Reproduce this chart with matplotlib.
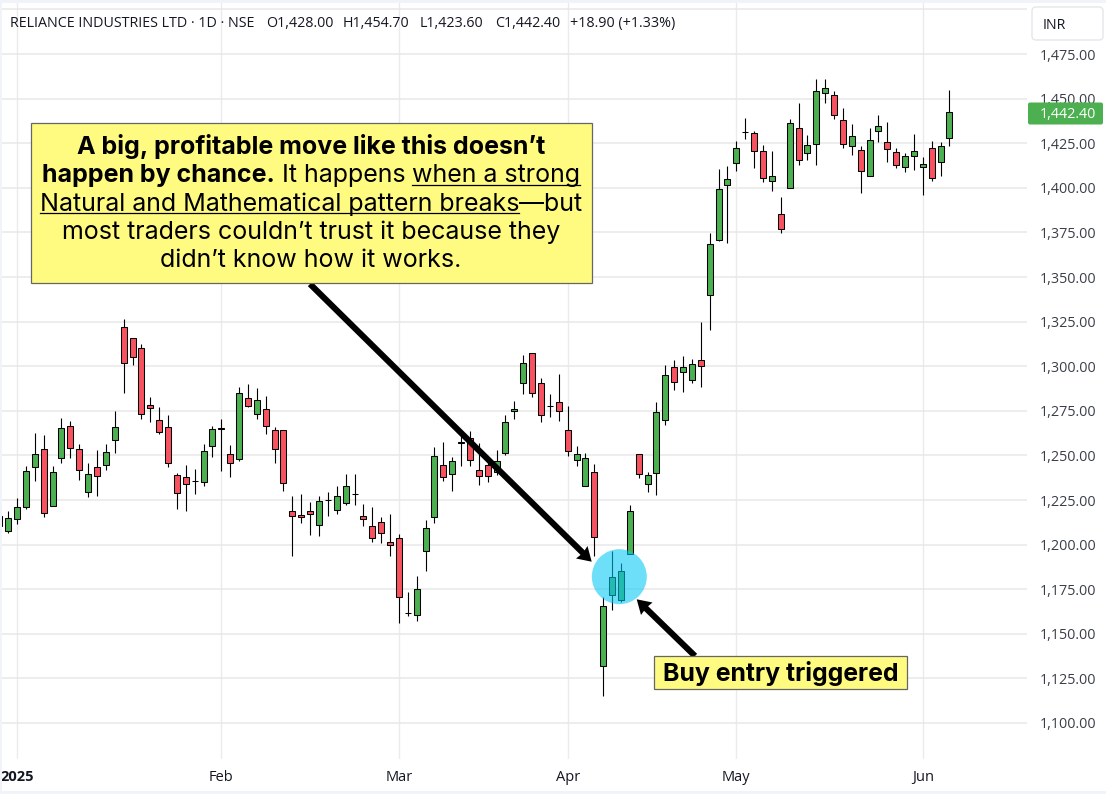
import numpy as np
import matplotlib
matplotlib.use("Agg")
import matplotlib.pyplot as plt
from matplotlib.patches import Circle, Polygon, Rectangle, FancyBboxPatch

# Daily candles, first one is only half visible at the left edge
opens = [1216.3, 1207.7, 1214.5, 1221.2, 1243.6, 1253.7, 1221.7, 1248.6, 1266.6, 1253.7, 1229.6,
         1243.6, 1244.7, 1258.7, 1322.1, 1315.9, 1310.3, 1278.4, 1269.9, 1266.0, 1239.1, 1238.0,
         1235.8, 1235.2, 1255.4, 1265.1, 1250.9, 1248.1, 1282.3, 1273.3, 1276.1, 1264.3, 1264.3,
         1218.9, 1216.7, 1218.9, 1211.1, 1225.1, 1219.5, 1223.4, 1228.5, 1216.1, 1210.5, 1212.8,
         1201.6, 1203.8, 1161.8, 1160.6, 1196.5, 1215.6, 1244.7, 1239.7, 1257.0, 1259.7, 1241.9,
         1244.7, 1240.8, 1251.4, 1275.0, 1290.7, 1307.5, 1290.7, 1277.8, 1280.0, 1264.3, 1247.5,
         1232.9, 1240.8, 1132.1, 1171.9, 1169.0, 1194.8, 1250.9, 1234.1, 1240.2, 1269.9, 1299.7,
         1296.9, 1292.4, 1303.6, 1340.0, 1370.8, 1401.6, 1414.0, 1431.4, 1430.8, 1420.7, 1403.9,
         1385.4, 1400.0, 1433.6, 1419.6, 1424.6, 1453.2, 1452.1, 1438.1, 1423.5, 1421.3, 1406.7,
         1431.9, 1425.8, 1420.2, 1411.7, 1417.9, 1411.7, 1422.4, 1414.5, 1428.0]
highs = [1218.0, 1219.1, 1226.2, 1244.2, 1262.3, 1261.7, 1244.2, 1271.1, 1269.4, 1256.5, 1245.5,
         1253.1, 1256.5, 1275.0, 1326.2, 1315.9, 1312.7, 1282.8, 1277.2, 1272.8, 1240.2, 1244.7,
         1242.5, 1256.5, 1266.6, 1270.5, 1255.9, 1288.4, 1290.1, 1287.9, 1283.4, 1266.0, 1264.3,
         1227.0, 1228.1, 1224.0, 1227.3, 1229.6, 1232.6, 1239.3, 1239.7, 1223.0, 1220.8, 1215.2,
         1217.4, 1206.0, 1173.6, 1182.5, 1213.9, 1254.8, 1257.6, 1249.2, 1261.7, 1263.8, 1257.0,
         1248.6, 1253.1, 1272.9, 1280.6, 1306.0, 1307.5, 1293.5, 1284.5, 1295.7, 1277.8, 1255.4,
         1251.4, 1245.3, 1170.7, 1196.5, 1189.8, 1222.3, 1250.9, 1240.8, 1280.0, 1300.8, 1303.6,
         1305.8, 1304.1, 1324.9, 1374.4, 1410.6, 1412.3, 1426.3, 1439.2, 1431.9, 1424.1, 1420.7,
         1394.9, 1438.6, 1447.6, 1429.7, 1461.1, 1461.1, 1454.4, 1444.8, 1435.9, 1423.5, 1433.6,
         1440.9, 1437.0, 1422.4, 1419.6, 1430.2, 1417.3, 1426.3, 1425.8, 1454.7]
lows = [1208.0, 1206.6, 1211.5, 1220.1, 1235.6, 1215.2, 1221.7, 1245.7, 1248.5, 1236.1, 1226.6,
        1227.2, 1241.7, 1251.3, 1284.9, 1300.6, 1270.3, 1268.6, 1261.9, 1243.4, 1219.9, 1218.7,
        1228.3, 1232.8, 1249.0, 1241.2, 1237.8, 1246.8, 1277.0, 1270.3, 1261.9, 1245.7, 1230.0,
        1193.5, 1212.0, 1205.3, 1204.7, 1216.0, 1217.4, 1222.1, 1222.1, 1210.3, 1201.4, 1200.8,
        1193.5, 1156.0, 1159.9, 1157.1, 1185.1, 1212.0, 1235.6, 1230.0, 1244.0, 1244.0, 1233.3,
        1235.0, 1238.9, 1250.1, 1270.3, 1284.3, 1282.8, 1268.6, 1271.4, 1269.2, 1249.6, 1244.0,
        1232.9, 1193.5, 1115.0, 1163.3, 1167.9, 1194.8, 1237.3, 1229.4, 1227.7, 1266.8, 1286.6,
        1285.5, 1290.5, 1288.3, 1320.2, 1370.1, 1369.0, 1409.3, 1427.2, 1411.0, 1403.1, 1398.1,
        1374.6, 1400.0, 1412.7, 1415.5, 1412.7, 1447.4, 1438.5, 1422.2, 1418.3, 1397.0, 1406.7,
        1425.6, 1414.4, 1411.0, 1408.8, 1409.9, 1395.9, 1403.7, 1406.5, 1423.6]
closes = [1210.2, 1215.0, 1221.2, 1241.4, 1250.9, 1217.8, 1240.8, 1265.5, 1254.3, 1241.9, 1239.7,
          1238.6, 1252.0, 1266.0, 1301.9, 1305.3, 1273.3, 1276.7, 1263.2, 1245.8, 1229.0, 1234.1,
          1235.6, 1252.6, 1264.9, 1264.9, 1245.8, 1285.1, 1277.8, 1281.2, 1266.6, 1253.7, 1234.6,
          1216.1, 1215.6, 1217.2, 1224.5, 1224.9, 1227.3, 1232.9, 1228.3, 1214.4, 1203.8, 1206.6,
          1199.9, 1170.7, 1161.6, 1175.2, 1209.4, 1249.8, 1238.0, 1246.9, 1257.4, 1247.5, 1238.5,
          1238.5, 1246.9, 1268.8, 1276.1, 1301.9, 1285.1, 1272.7, 1277.6, 1275.0, 1252.6, 1250.9,
          1248.6, 1204.4, 1165.7, 1181.9, 1185.3, 1218.9, 1239.7, 1239.1, 1274.4, 1295.2, 1291.2,
          1299.7, 1301.3, 1300.2, 1368.6, 1399.4, 1405.0, 1422.4, 1431.2, 1420.7, 1405.6, 1406.7,
          1377.0, 1436.4, 1415.7, 1424.1, 1454.4, 1456.0, 1440.9, 1424.6, 1429.1, 1409.5, 1426.9,
          1434.7, 1421.8, 1412.9, 1417.9, 1420.7, 1413.4, 1405.6, 1423.5, 1442.4]

price_ticks = [1100, 1125, 1150, 1175, 1200, 1225, 1250, 1275, 1300, 1325, 1350, 1375, 1400, 1425, 1450, 1475]
month_labels = ["2025", "Feb", "Mar", "Apr", "May", "Jun"]
month_candles = [2, 25, 45, 64, 83, 104]  # position in the arrays above

header_parts = ["RELIANCE INDUSTRIES LTD · 1D · NSE", "O1,428.00", "H1,454.70", "L1,423.60", "C1,442.40", "+18.90 (+1.33%)"]
header_x = [10, 266, 343, 420, 495, 570]

UP = "#4CAF50"
DOWN = "#F7525F"
GRID = "#E8E8E8"
NOTE = "#FFFB80"
INK = "#131722"
W, H = 1106, 794
FONT = "Inter"
plt.rcParams["font.family"] = ["Open Sans", "DejaVu Sans"]

fig = plt.figure(figsize=(W / 100, H / 100), dpi=100)

# Chart pane, placed in pixels
left, right, top, bottom = 2, 1027, 3, 759
ax = fig.add_axes([left / W, 1 - bottom / H, (right - left) / W, (bottom - top) / H])

step = 8.88      # pixels per candle
x0 = 8.2 - step  # pixel of the first array entry
ax.set_xlim((left - x0) / step, (right - x0) / step)
ppu = 1.784      # pixels per rupee
ax.set_ylim(1100 - (bottom - 723.0) / ppu, 1475 + (54.0 - top) / ppu)

o = np.array(opens)
c = np.array(closes)
x = np.arange(len(o))
ax.vlines(x, lows, highs, color="black", lw=0.8, zorder=2)
ax.bar(x, np.abs(c - o), bottom=np.minimum(o, c), width=0.68,
       color=[UP if b >= a else DOWN for a, b in zip(o, c)],
       edgecolor="black", linewidth=0.75, zorder=3)

# Axes and grid
ax.set_yticks(price_ticks + [1500])
ax.set_yticklabels(["{:,.2f}".format(p) for p in price_ticks] + [""])
ax.yaxis.tick_right()
ax.set_xticks(month_candles)
ax.set_xticklabels(month_labels)
ax.get_xticklabels()[0].set_fontweight("bold")
ax.grid(True, color=GRID, lw=1.1)
ax.grid(True, axis="x", color="#EBEBEB", lw=1.0)
ax.set_axisbelow(True)
ax.tick_params(axis="y", length=0, pad=9.5, labelsize=10.4, labelcolor="#3A3E48")
ax.tick_params(axis="x", length=0, pad=8.2, labelsize=10.5, labelcolor=INK)
for s in ax.spines.values():
    s.set_visible(False)

# Overlay in pixel coordinates for all the callouts
ov = fig.add_axes([0, 0, 1, 1])
ov.set_xlim(0, W)
ov.set_ylim(H, 0)
ov.axis("off")
ov.patch.set_alpha(0)

# Thin frame of the screenshot
ov.add_patch(Rectangle((0, 0), W, 3, color="#F0F3FA", lw=0))
ov.add_patch(Rectangle((0, 791), W, 3, color="#F0F3FA", lw=0))
ov.add_patch(Rectangle((0, 0), 1.5, H, color="#F0F3FA", lw=0))

# Header
for part, hx in zip(header_parts, header_x):
    ov.text(hx, 27, part, fontsize=10.3, color=INK, va="baseline", ha="left")

# INR box and last price tag
ov.add_patch(FancyBboxPatch((1035, 10), 65, 27, boxstyle="round,pad=3,rounding_size=4",
                            fc="white", ec="#E4E6EC", lw=1))
ov.text(1043, 29, "INR", fontsize=10.2, color=INK, va="baseline")
ov.add_patch(FancyBboxPatch((1029, 103.5), 73, 20, boxstyle="round,pad=1,rounding_size=2", fc=UP, ec="none"))
ov.text(1040, 118, "{:,.2f}".format(closes[-1]), fontsize=10.4, color="white", va="baseline")

# Circle over the entry candles
ov.add_patch(Circle((619.3, 576.7), 27.5, fc=(0, 200 / 255, 245 / 255, 0.57), ec="none", zorder=4))

# Arrows
ov.plot([310, 584], [284, 554], color="black", lw=4.4, solid_capstyle="butt", zorder=5)
ov.add_patch(Polygon([(591.7, 561.7), (576, 558.5), (583, 553), (587.5, 546)], fc="black", ec="none", zorder=5))
ov.plot([695, 643], [656, 605.5], color="black", lw=4.4, solid_capstyle="butt", zorder=5)
ov.add_patch(Polygon([(636.7, 599.3), (652.5, 602.5), (646, 608), (641, 615)], fc="black", ec="none", zorder=5))

# Yellow note
ov.add_patch(Rectangle((30.5, 122.8), 561, 160, fc=NOTE, ec="#666666", lw=0.9, zorder=6))
note_lines = [
    [("A big, profitable move like this doesn’t", True, False)],
    [("happen by chance.", True, False), (" It happens ", False, False), ("when a strong", False, True)],
    [("Natural and Mathematical pattern breaks", False, True), ("—but", False, False)],
    [("most traders couldn’t trust it because they", False, False)],
    [("didn’t know how it works.", False, False)],
]
note_size = 18.0
renderer = fig.canvas.get_renderer()


def seg_width(s, bold):
    # the dot keeps leading and trailing spaces in the measure
    t = ov.text(0, 0, "." + s + ".", fontsize=note_size, family=FONT, fontweight="bold" if bold else "normal")
    d = ov.text(0, 0, "..", fontsize=note_size, family=FONT, fontweight="bold" if bold else "normal")
    w = t.get_window_extent(renderer).width - d.get_window_extent(renderer).width
    t.remove()
    d.remove()
    return w


for i, line in enumerate(note_lines):
    widths = [seg_width(s, b) for s, b, u in line]
    tx = 311 - sum(widths) / 2
    by = 154 + 28.3 * i
    for (s, b, u), w in zip(line, widths):
        ov.text(tx, by, s, fontsize=note_size, family=FONT, color="black", va="baseline", ha="left",
                fontweight="bold" if b else "normal", zorder=7)
        if u:
            ov.plot([tx, tx + w], [by + 2.8, by + 2.8], color="black", lw=0.9, zorder=7)
        tx += w

# Entry label
ov.add_patch(Rectangle((653.5, 656), 253, 33, fc=NOTE, ec="#666666", lw=0.9, zorder=6))
ov.text(780.5, 681, "Buy entry triggered", fontsize=17.9, family=FONT, fontweight="bold",
        color="black", ha="center", va="baseline", zorder=7)

fig.savefig("out.png", dpi=100)
